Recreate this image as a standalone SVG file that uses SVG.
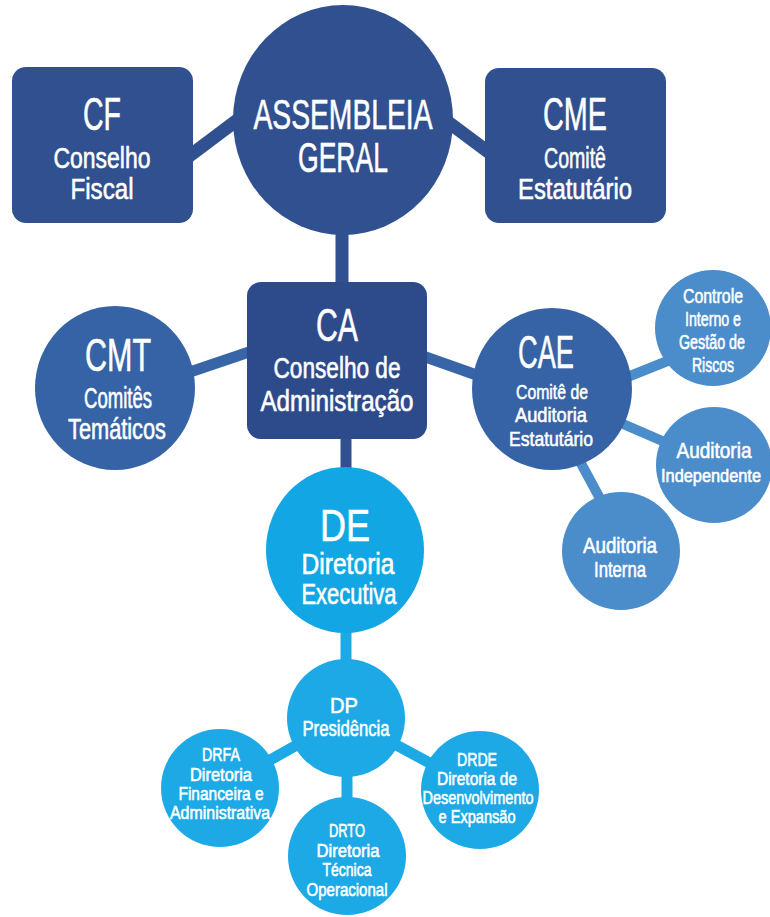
<svg xmlns="http://www.w3.org/2000/svg" width="770" height="917" viewBox="0 0 770 917">
<style>
text{font-family:"Liberation Sans Narrow","Liberation Sans","DejaVu Sans",sans-serif;fill:#ffffff;stroke:#ffffff;stroke-width:0.6px;text-anchor:middle}
.t46{font-size:46px}
.t42{font-size:42px}
.t44{font-size:44px}
.t29{font-size:29px}
.t22{font-size:22px}
.t21{font-size:21px}
.t20{font-size:20px}
.t19{font-size:19px}
.navy{fill:#30508f}
.ca{fill:#2d4b8b}
.mid{fill:#3563a6}
.lite{fill:#4b8dcb}
.cyan{fill:#12a6e4}
.cyan2{fill:#1ca9e6}
.c-navy{stroke:#30508f;stroke-width:13;fill:none}
.c-mid{stroke:#3865a7;stroke-width:11;fill:none}
.c-lite{stroke:#4b8dcb;stroke-width:10;fill:none}
.c-cyan{stroke:#1ca9e6;stroke-width:11;fill:none}
</style>
<rect width="770" height="917" fill="#ffffff"/>
<g id="connectors">
<line class="c-navy" x1="180" y1="163" x2="248" y2="112"/>
<line class="c-navy" x1="440" y1="116" x2="495" y2="157"/>
<line class="c-navy" x1="342" y1="225" x2="342" y2="290"/>
<line class="c-mid" x1="190" y1="372" x2="255" y2="350"/>
<line class="c-mid" x1="420" y1="355" x2="485" y2="378"/>
<line class="c-navy" x1="346" y1="430" x2="346" y2="475" style="stroke-width:11"/>
<line class="c-lite" x1="600" y1="388" x2="690" y2="352"/>
<line class="c-lite" x1="600" y1="414" x2="690" y2="453"/>
<line class="c-lite" x1="570" y1="443" x2="610" y2="517"/>
<line class="c-cyan" x1="346" y1="625" x2="346" y2="665"/>
<line class="c-cyan" x1="345" y1="718" x2="220" y2="788"/>
<line class="c-cyan" x1="346" y1="718" x2="480" y2="790"/>
<line class="c-cyan" x1="347" y1="718" x2="347" y2="856"/>
</g>
<g id="cf">
<rect class="navy" x="12" y="67" width="181" height="156" rx="14"/>
<text class="t46" x="102" y="130" textLength="38" lengthAdjust="spacingAndGlyphs">CF</text>
<text class="t29" x="102" y="168" textLength="97" lengthAdjust="spacingAndGlyphs">Conselho</text>
<text class="t29" x="102" y="199" textLength="63" lengthAdjust="spacingAndGlyphs">Fiscal</text>
</g>
<g id="ag">
<ellipse class="navy" cx="343" cy="120" rx="110" ry="115"/>
<text class="t42" x="343" y="129" textLength="179" lengthAdjust="spacingAndGlyphs">ASSEMBLEIA</text>
<text class="t42" x="343" y="172" textLength="90" lengthAdjust="spacingAndGlyphs">GERAL</text>
</g>
<g id="cme">
<rect class="navy" x="485" y="68" width="181" height="155" rx="14"/>
<text class="t46" x="575" y="130" textLength="64" lengthAdjust="spacingAndGlyphs">CME</text>
<text class="t29" x="575" y="168" textLength="62" lengthAdjust="spacingAndGlyphs">Comitê</text>
<text class="t29" x="575" y="199" textLength="114" lengthAdjust="spacingAndGlyphs">Estatutário</text>
</g>
<g id="ca">
<rect class="ca" x="247" y="282" width="180" height="157" rx="14"/>
<text class="t46" x="337" y="341" textLength="42" lengthAdjust="spacingAndGlyphs">CA</text>
<text class="t29" x="337" y="378" textLength="127" lengthAdjust="spacingAndGlyphs">Conselho de</text>
<text class="t29" x="337" y="411" textLength="153" lengthAdjust="spacingAndGlyphs">Administração</text>
</g>
<g id="cmt">
<ellipse class="mid" cx="115" cy="388" rx="80" ry="82"/>
<text class="t46" x="118" y="371" textLength="66" lengthAdjust="spacingAndGlyphs">CMT</text>
<text class="t29" x="118" y="408" textLength="68" lengthAdjust="spacingAndGlyphs">Comitês</text>
<text class="t29" x="117" y="439" textLength="98" lengthAdjust="spacingAndGlyphs">Temáticos</text>
</g>
<g id="cae">
<ellipse class="mid" cx="552" cy="389" rx="80" ry="81"/>
<text class="t46" x="546" y="368" textLength="56" lengthAdjust="spacingAndGlyphs">CAE</text>
<text class="t21" x="552" y="399" textLength="72" lengthAdjust="spacingAndGlyphs">Comitê de</text>
<text class="t21" x="551" y="422" textLength="72" lengthAdjust="spacingAndGlyphs">Auditoria</text>
<text class="t21" x="551" y="446" textLength="84" lengthAdjust="spacingAndGlyphs">Estatutário</text>
</g>
<g id="controle">
<circle class="lite" cx="713" cy="328" r="58"/>
<text class="t21" x="713" y="303" textLength="60" lengthAdjust="spacingAndGlyphs">Controle</text>
<text class="t21" x="713" y="326" textLength="56" lengthAdjust="spacingAndGlyphs">Interno e</text>
<text class="t20" x="712" y="349" textLength="66" lengthAdjust="spacingAndGlyphs">Gestão de</text>
<text class="t21" x="713" y="372" textLength="42" lengthAdjust="spacingAndGlyphs">Riscos</text>
</g>
<g id="aud-indep">
<circle class="lite" cx="714" cy="465" r="58"/>
<text class="t22" x="714" y="458" textLength="75" lengthAdjust="spacingAndGlyphs">Auditoria</text>
<text class="t19" x="711" y="482" textLength="100" lengthAdjust="spacingAndGlyphs">Independente</text>
</g>
<g id="aud-interna">
<circle class="lite" cx="621" cy="551" r="59"/>
<text class="t22" x="620" y="553" textLength="74" lengthAdjust="spacingAndGlyphs">Auditoria</text>
<text class="t22" x="620" y="577" textLength="52" lengthAdjust="spacingAndGlyphs">Interna</text>
</g>
<g id="de">
<ellipse class="cyan" cx="345" cy="550" rx="79" ry="83"/>
<text class="t44" x="345" y="541" textLength="50" lengthAdjust="spacingAndGlyphs">DE</text>
<text class="t29" x="348" y="574" textLength="93" lengthAdjust="spacingAndGlyphs">Diretoria</text>
<text class="t29" x="349" y="604" textLength="95" lengthAdjust="spacingAndGlyphs">Executiva</text>
</g>
<g id="dp">
<circle class="cyan2" cx="346" cy="718" r="59"/>
<text class="t22" x="344" y="713" textLength="28" lengthAdjust="spacingAndGlyphs">DP</text>
<text class="t22" x="346" y="736" textLength="87" lengthAdjust="spacingAndGlyphs">Presidência</text>
</g>
<g id="drfa">
<circle class="cyan2" cx="220" cy="788" r="59"/>
<text class="t19" x="221" y="761" textLength="38" lengthAdjust="spacingAndGlyphs">DRFA</text>
<text class="t19" x="221" y="781" textLength="62" lengthAdjust="spacingAndGlyphs">Diretoria</text>
<text class="t19" x="221" y="800" textLength="85" lengthAdjust="spacingAndGlyphs">Financeira e</text>
<text class="t19" x="220" y="819" textLength="100" lengthAdjust="spacingAndGlyphs">Administrativa</text>
</g>
<g id="drto">
<circle class="cyan2" cx="347" cy="856" r="59"/>
<text class="t19" x="347" y="837" textLength="36" lengthAdjust="spacingAndGlyphs">DRTO</text>
<text class="t19" x="348" y="857" textLength="63" lengthAdjust="spacingAndGlyphs">Diretoria</text>
<text class="t19" x="347" y="876" textLength="49" lengthAdjust="spacingAndGlyphs">Técnica</text>
<text class="t19" x="347" y="896" textLength="81" lengthAdjust="spacingAndGlyphs">Operacional</text>
</g>
<g id="drde">
<circle class="cyan2" cx="480" cy="790" r="59"/>
<text class="t19" x="477" y="766" textLength="40" lengthAdjust="spacingAndGlyphs">DRDE</text>
<text class="t19" x="477" y="785" textLength="80" lengthAdjust="spacingAndGlyphs">Diretoria de</text>
<text class="t19" x="478" y="804" textLength="111" lengthAdjust="spacingAndGlyphs">Desenvolvimento</text>
<text class="t19" x="477" y="823" textLength="77" lengthAdjust="spacingAndGlyphs">e Expansão</text>
</g>
</svg>
